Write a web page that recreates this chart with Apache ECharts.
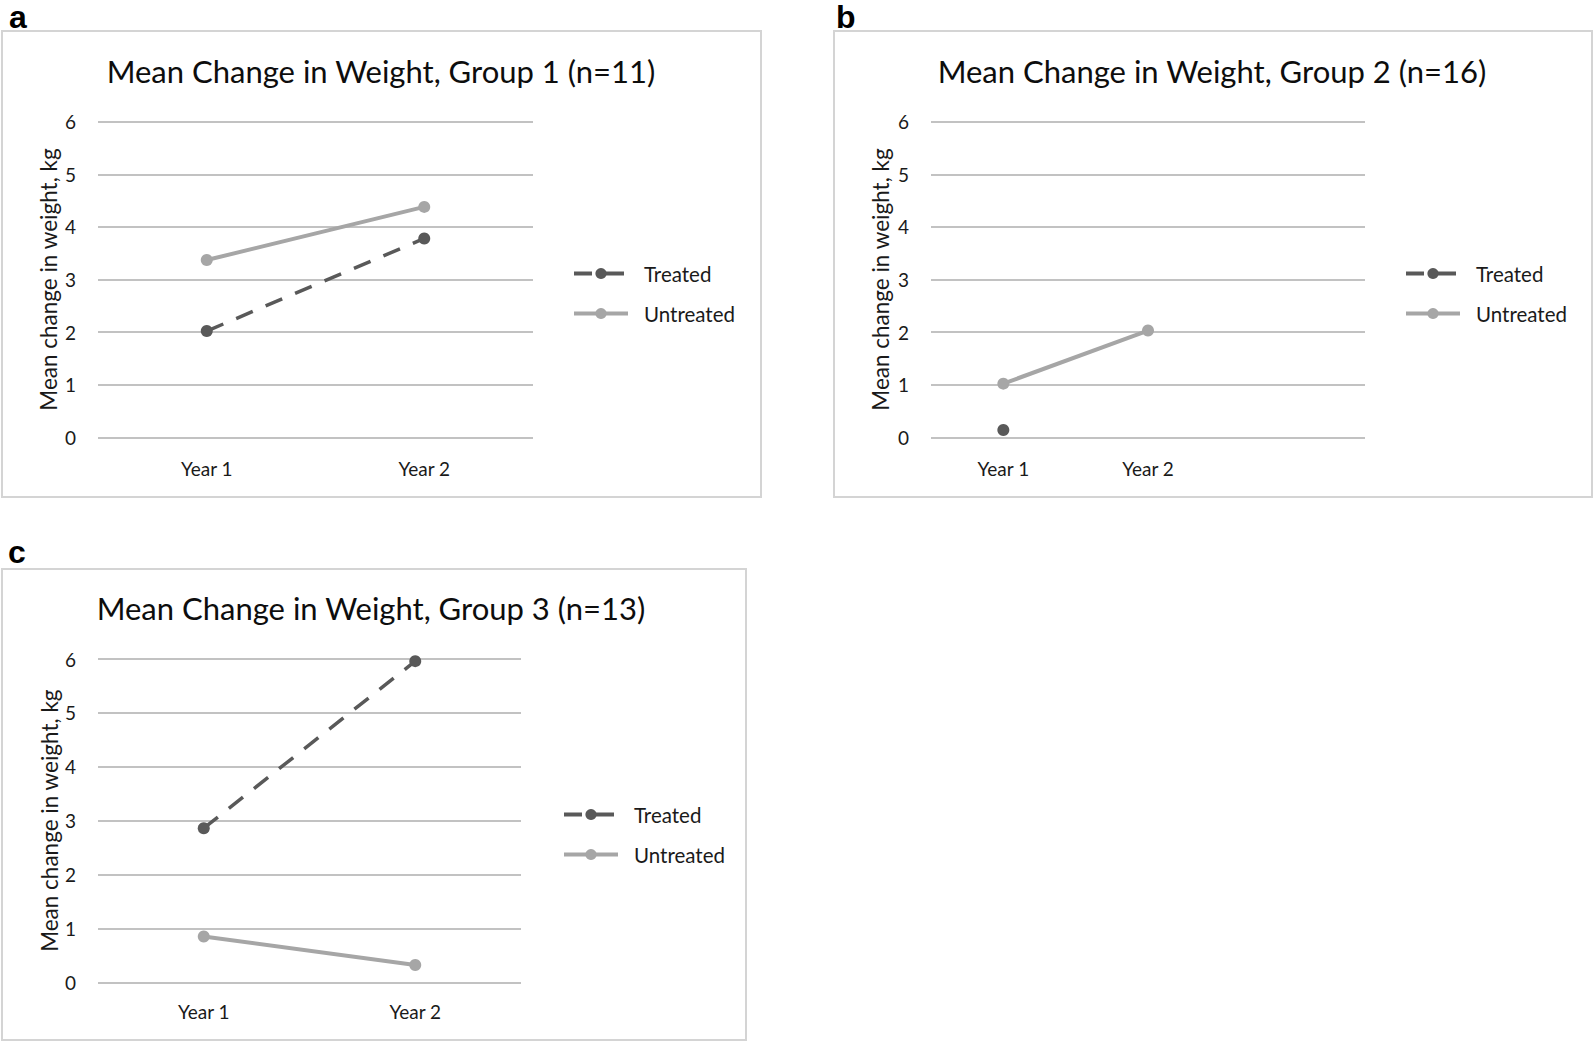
<!DOCTYPE html>
<html>
<head>
<meta charset="utf-8">
<script src="https://cdn.jsdelivr.net/npm/echarts@6/dist/echarts.min.js"></script>
<style>
html,body{margin:0;padding:0;background:#fff;}
#chart{width:1593px;height:1042px;}
</style>
</head>
<body>
<div id="chart"></div>
<script>
// ---- data ----
const seriesNames = ['Treated', 'Untreated'];
const categoriesA = ['Year 1', 'Year 2'];
const categoriesB = ['Year 1', 'Year 2', ''];
const categoriesC = ['Year 1', 'Year 2'];
const treatedA = [2.02, 3.78];
const untreatedA = [3.37, 4.38];
const treatedB = [0.14, null, null];
const untreatedB = [1.02, 2.03, null];
const treatedC = [2.86, 5.96];
const untreatedC = [0.85, 0.32];
const yTicks = [0, 1, 2, 3, 4, 5, 6];
const titles = [
  'Mean Change in Weight, Group 1 (n=11)',
  'Mean Change in Weight, Group 2 (n=16)',
  'Mean Change in Weight, Group 3 (n=13)'
];
const panelLetters = ['a', 'b', 'c'];
const yName = 'Mean change in weight, kg';

// ---- styles ----
const FONT = 'Lato';
const darkGray = '#595959';
const lightGray = '#a6a6a6';
const gridColor = '#c2c2c2';
const textColor = '#1a1a1a';

const grids = [
  {left: 98, top: 121.7, width: 435, height: 315.6},
  {left: 931, top: 121.7, width: 434, height: 315.6},
  {left: 98, top: 659, width: 423, height: 323.3}
];
const nameGaps = [38, 39, 37];
const cats = [categoriesA, categoriesB, categoriesC];
const treated = [treatedA, treatedB, treatedC];
const untreated = [untreatedA, untreatedB, untreatedC];

const xAxes = grids.map((g, i) => ({
  type: 'category', gridIndex: i, data: cats[i], boundaryGap: true,
  axisLine: {show: false}, axisTick: {show: false},
  axisLabel: {fontFamily: FONT, fontSize: 19, color: textColor, margin: i === 2 ? 20 : 22}
}));
const yAxes = grids.map((g, i) => ({
  type: 'value', gridIndex: i, min: yTicks[0], max: yTicks[yTicks.length - 1], interval: 1,
  axisLine: {show: false}, axisTick: {show: false},
  axisLabel: {fontFamily: FONT, fontSize: 19, color: textColor, margin: 22},
  splitLine: {lineStyle: {color: gridColor, width: 2}},
  name: yName, nameLocation: 'middle', nameGap: nameGaps[i], nameRotate: 90,
  nameTextStyle: {fontFamily: FONT, fontSize: 22.5, color: textColor}
}));

const series = [];
grids.forEach((g, i) => {
  series.push({
    name: seriesNames[0], type: 'line', xAxisIndex: i, yAxisIndex: i,
    data: treated[i], symbol: 'circle', symbolSize: 12, connectNulls: false,
    lineStyle: {color: darkGray, width: 3.5, type: [18, 14]},
    itemStyle: {color: darkGray}, emphasis: {disabled: true}, animation: false
  });
  series.push({
    name: seriesNames[1], type: 'line', xAxisIndex: i, yAxisIndex: i,
    data: untreated[i], symbol: 'circle', symbolSize: 12, connectNulls: false,
    lineStyle: {color: lightGray, width: 4},
    itemStyle: {color: lightGray}, emphasis: {disabled: true}, animation: false
  });
});

const legendPos = [{left: 572, top: 263}, {left: 1404, top: 263}, {left: 562, top: 804}];
const legends = legendPos.map(p => ({
  data: seriesNames, orient: 'vertical', left: p.left, top: p.top, padding: 0,
  itemWidth: 54, itemHeight: 14, itemGap: 19, selectedMode: false,
  lineStyle: {width: 4, type: 'inherit'},
  textStyle: {fontFamily: FONT, fontSize: 20.5, color: textColor, lineHeight: 21, padding: [0, 0, 0, 11]}
}));

const frames = [
  {x: 2, y: 31, w: 759, h: 466},
  {x: 834, y: 31, w: 758, h: 466},
  {x: 2, y: 569, w: 744, h: 471}
];
const titlePos = [{x: 381, y: 71}, {x: 1212, y: 71}, {x: 371, y: 608}];
const letterPos = [{x: 9, y: 1}, {x: 836, y: 1}, {x: 8, y: 536}];

const graphic = [];
frames.forEach(f => graphic.push({
  type: 'rect', silent: true, z: -1,
  shape: {x: f.x, y: f.y, width: f.w, height: f.h},
  style: {fill: 'none', stroke: '#d4d4d4', lineWidth: 2}
}));
titlePos.forEach((p, i) => graphic.push({
  type: 'text', x: p.x, y: p.y, silent: true,
  style: {text: titles[i], font: '31px ' + FONT, fill: '#0d0d0d', align: 'center', verticalAlign: 'middle'}
}));
letterPos.forEach((p, i) => graphic.push({
  type: 'text', x: p.x, y: p.y, silent: true,
  style: {text: panelLetters[i], font: 'bold 32px "Liberation Sans"', fill: '#000', align: 'left', verticalAlign: 'top'}
}));

const chart = echarts.init(document.getElementById('chart'), null, {renderer: 'svg'});
chart.setOption({
  animation: false,
  backgroundColor: '#fff',
  grid: grids,
  xAxis: xAxes,
  yAxis: yAxes,
  legend: legends,
  series: series,
  graphic: graphic
});
</script>
</body>
</html>
